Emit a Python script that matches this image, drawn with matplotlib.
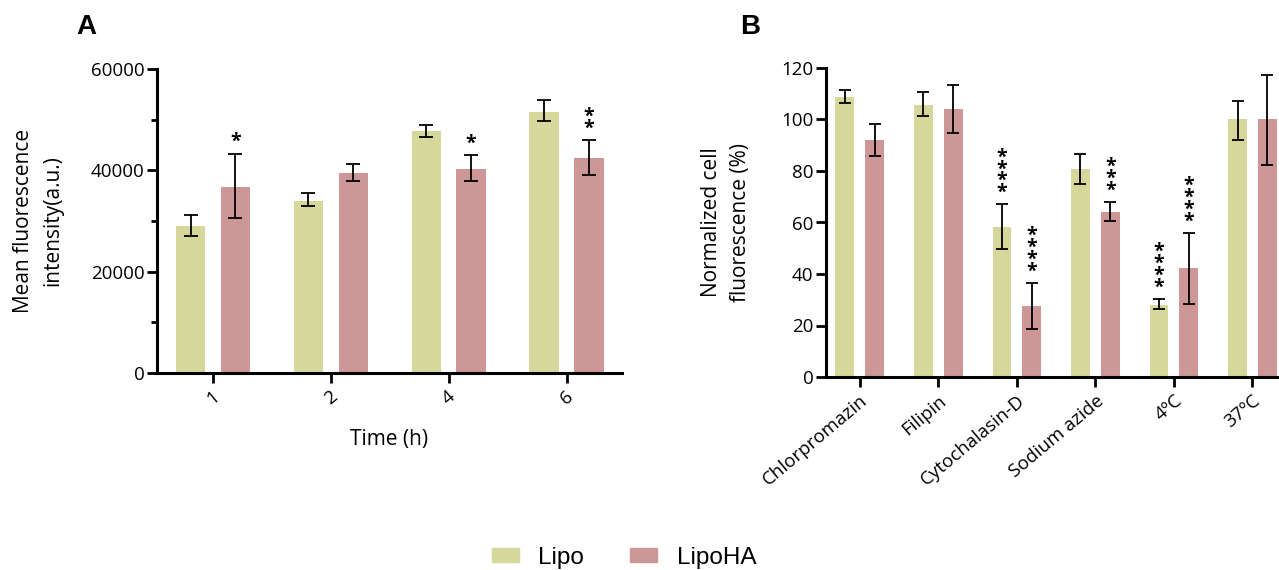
import numpy as np
import matplotlib.pyplot as plt
from matplotlib.patches import Patch

plt.rcParams['font.family'] = ['Open Sans', 'DejaVu Sans']

# Panel A data
times = ['1', '2', '4', '6']
lipo_a = [29000, 34000, 47800, 51500]
lipo_a_lo = [2000, 1100, 1200, 1700]
lipo_a_hi = [2200, 1600, 1200, 2300]
lipoha_a = [36800, 39500, 40300, 42500]
lipoha_a_lo = [6300, 1700, 2500, 3500]
lipoha_a_hi = [6500, 1800, 2700, 3500]
stars_a_lipo = [0, 0, 0, 0]
stars_a_ha = [1, 0, 1, 2]

# Panel B data
treatments = ['Chlorpromazin', 'Filipin', 'Cytochalasin-D', 'Sodium azide', '4ºC', '37ºC']
lipo_b = [108.8, 105.8, 58.3, 80.6, 28.1, 100]
lipo_b_lo = [2.5, 4.4, 8.5, 5.8, 1.8, 7.9]
lipo_b_hi = [2.8, 4.8, 8.7, 6.0, 2.2, 7.2]
lipoha_b = [91.9, 104, 27.6, 64.1, 42.3, 100]
lipoha_b_lo = [6.2, 9.2, 9.0, 3.5, 13.9, 17.8]
lipoha_b_hi = [6.4, 9.3, 9.0, 3.9, 13.7, 17.2]
stars_b_lipo = [0, 0, 4, 0, 4, 0]
stars_b_ha = [0, 0, 4, 3, 4, 0]

c_lipo = '#d6d79b'
c_ha = '#cd9797'

fig = plt.figure(figsize=(12.79, 5.70), dpi=100)


def style_axes(ax):
    for s in ['top', 'right']:
        ax.spines[s].set_visible(False)
    for s in ['left', 'bottom']:
        ax.spines[s].set_linewidth(2.2)
    ax.tick_params(axis='both', width=2, length=7, labelsize=13.5, color='black')
    ax.tick_params(axis='y', pad=2)


def draw_stars(ax, x, top, n):
    # stacked asterisks above the error cap
    if n == 0:
        return
    ax.annotate('\n'.join(['*'] * n), xy=(x, top), xytext=(0, 1), textcoords='offset points',
                ha='center', va='bottom', fontsize=14, fontweight='bold',
                linespacing=0.45, annotation_clip=False)


# ---- Panel A ----
axA = fig.add_axes([157/1279, (570-373)/570, (622-157)/1279, (373-69)/570])
x = np.arange(len(times))
w = 0.25
d = 0.19
axA.bar(x - d, lipo_a, w, color=c_lipo, zorder=2)
axA.bar(x + d, lipoha_a, w, color=c_ha, zorder=2)
axA.errorbar(x - d, lipo_a, yerr=[lipo_a_lo, lipo_a_hi], fmt='none', ecolor='black',
             elinewidth=1.3, capsize=5, capthick=1.3, zorder=3)
axA.errorbar(x + d, lipoha_a, yerr=[lipoha_a_lo, lipoha_a_hi], fmt='none', ecolor='black',
             elinewidth=1.3, capsize=5, capthick=1.3, zorder=3)
for i in range(len(times)):
    draw_stars(axA, x[i] - d, lipo_a[i] + lipo_a_hi[i], stars_a_lipo[i])
    draw_stars(axA, x[i] + d, lipoha_a[i] + lipoha_a_hi[i], stars_a_ha[i])
axA.set_xlim(-0.475, 3.47)
axA.set_ylim(0, 60000)
axA.set_yticks([0, 20000, 40000, 60000])
axA.set_yticks([10000, 30000, 50000], minor=True)
axA.set_xticks(x)
axA.set_xticklabels(times, rotation=40, ha='center')
style_axes(axA)
axA.tick_params(axis='y', which='minor', width=2, length=4)
axA.set_ylabel('Mean fluorescence\nintensity(a.u.)', fontsize=15, labelpad=20, linespacing=1.5)
axA.set_xlabel('Time (h)', fontsize=15, labelpad=15)
fig.text(86/1279, 1 - 27/570, 'A', fontsize=20, fontweight='bold', ha='center', va='center',
         family='Liberation Sans')

# ---- Panel B ----
axB = fig.add_axes([826/1279, (570-377)/570, (1300-826)/1279, (377-68)/570])
xb = np.arange(len(treatments))
wb = 0.24
db = 0.19
axB.bar(xb - db, lipo_b, wb, color=c_lipo, zorder=2)
axB.bar(xb + db, lipoha_b, wb, color=c_ha, zorder=2)
axB.errorbar(xb - db, lipo_b, yerr=[lipo_b_lo, lipo_b_hi], fmt='none', ecolor='black',
             elinewidth=1.3, capsize=4, capthick=1.3, zorder=3)
axB.errorbar(xb + db, lipoha_b, yerr=[lipoha_b_lo, lipoha_b_hi], fmt='none', ecolor='black',
             elinewidth=1.3, capsize=4, capthick=1.3, zorder=3)
for i in range(len(treatments)):
    draw_stars(axB, xb[i] - db, lipo_b[i] + lipo_b_hi[i], stars_b_lipo[i])
    draw_stars(axB, xb[i] + db, lipoha_b[i] + lipoha_b_hi[i], stars_b_ha[i])
axB.set_xlim(-0.43, (1300-860)/78.5)
axB.set_ylim(0, 120)
axB.set_yticks([0, 20, 40, 60, 80, 100, 120])
axB.set_xticks(xb)
axB.set_xticklabels(treatments, rotation=40, ha='right', rotation_mode='anchor')
style_axes(axB)
axB.set_ylabel('Normalized cell\nfluorescence (%)', fontsize=15, labelpad=22, linespacing=1.5)
fig.text(750/1279, 1 - 27/570, 'B', fontsize=20, fontweight='bold', ha='center', va='center',
         family='Liberation Sans')

# legend
handles = [Patch(color=c_lipo, label='Lipo'), Patch(color=c_ha, label='LipoHA')]
fig.legend(handles=handles, loc='lower center', ncol=2, frameon=False,
           bbox_to_anchor=(0.488, -0.036), prop={'family': 'Liberation Sans', 'size': 17.5},
           handlelength=1.1, handleheight=0.5, columnspacing=1.9, handletextpad=0.8)

fig.savefig('out.png', dpi=100)
